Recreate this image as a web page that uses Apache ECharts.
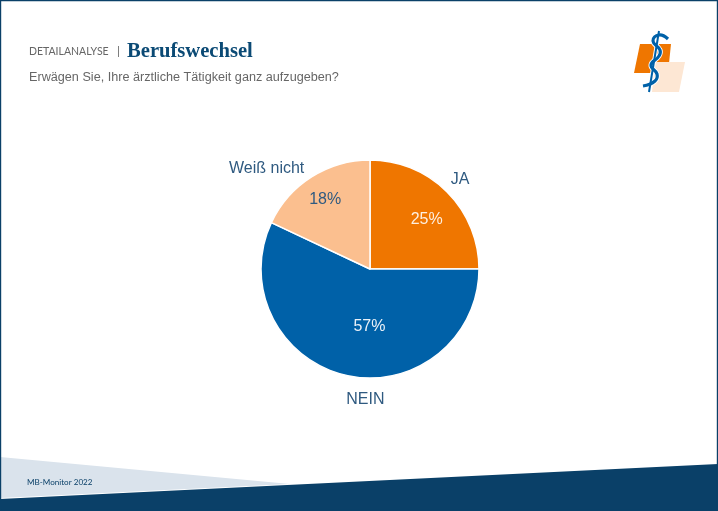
<!DOCTYPE html>
<html><head><meta charset="utf-8">
<style>html,body{margin:0;padding:0;background:#fff}#c{width:718px;height:511px}</style>
<script src="https://cdn.jsdelivr.net/npm/echarts@6/dist/echarts.min.js"></script></head>
<body><div id="c"></div>
<script>
const categories = ['JA', 'NEIN', 'Weiß nicht'];
const values = [25, 57, 18];
const sliceColors = ['#EF7600', '#0061A8', '#FBBF8F'];
const pctColors = ['#FDEFE0', '#EAF1F8', '#2F5A80'];
const nameOffsets = [[-7, -7], [45, 16], [2, -2]];
const pctOffsets = [[16, -9], [12, 1], [-14, -21]];

const chart = echarts.init(document.getElementById('c'), null, {renderer: 'canvas'});
const navy = '#0A4068';
const snake = [[668,39],[659,35],[653,41],[660,50],[659,56],[651,65],[657,74],[655,81],[643,86]];
chart.setOption({
  animation: false,
  backgroundColor: '#fff',
  graphic: [
    {type:'polygon', z:1, shape:{points:[[0,457],[290,484],[0,498]]}, style:{fill:'#DAE3EC'}},
    {type:'polygon', z:2, shape:{points:[[0,499],[718,464],[718,511],[0,511]]}, style:{fill:navy}},
    {type:'rect', z:3, shape:{x:0.5,y:0.5,width:717,height:510}, style:{fill:'none',stroke:navy,lineWidth:1.4}},
    {type:'text', z:5, x:29, y:46, style:{text:'DETAILANALYSE',font:'10.5px Lato',fill:'#666'}},
    {type:'text', z:5, x:117, y:45, style:{text:'|',font:'12px Lato',fill:'#666'}},
    {type:'text', z:5, x:127, y:41, style:{text:'Berufswechsel',font:'bold 20.6px "Liberation Serif"',fill:'#0B4A75'}},
    {type:'text', z:5, x:29, y:71, style:{text:'Erwägen Sie, Ihre ärztliche Tätigkeit ganz aufzugeben?',font:'12.65px "Liberation Sans"',fill:'#666'}},
    {type:'text', z:5, x:27, y:478, style:{text:'MB-Monitor 2022',font:'8.1px Lato',fill:navy}},
    {type:'polygon', z:5, shape:{points:[[640,44],[671,44],[668,73],[634,73]]}, style:{fill:'#EF7600'}},
    {type:'polygon', z:6, shape:{points:[[655,62],[685,62],[679,92],[652,92]]}, style:{fill:'#FDE7D4'}},
    {type:'polyline', z:7, shape:{smooth:0.5, points:snake}, style:{fill:'none',stroke:'#fff',lineWidth:5}},
    {type:'line', z:7, shape:{x1:659,y1:31,x2:649,y2:92}, style:{stroke:'#fff',lineWidth:4}},
    {type:'line', z:8, shape:{x1:659,y1:31,x2:649,y2:92}, style:{stroke:'#0061A8',lineWidth:2}},
    {type:'polyline', z:8, shape:{smooth:0.5, points:snake}, style:{fill:'none',stroke:'#0061A8',lineWidth:3.2}}
  ],
  series: [
    {
      type: 'pie', center: [370, 269], radius: [0, 109], startAngle: 90, clockwise: true, z: 4,
      data: categories.map((n, i) => ({name:n, value:values[i], itemStyle:{color:sliceColors[i]},
        label:{color:pctColors[i], offset:pctOffsets[i]}})),
      itemStyle: {borderColor:'#fff', borderWidth:1.5},
      label: {position:'inside', formatter:'{c}%', fontFamily:'Liberation Sans', fontSize:16},
      labelLine: {show:false}, silent:true
    },
    {
      type: 'pie', center: [370, 269], radius: [0, 109], startAngle: 90, clockwise: true, z: 4,
      data: categories.map((n, i) => ({name:n, value:values[i], label:{offset:nameOffsets[i]}})),
      itemStyle: {color:'transparent', borderWidth:0},
      label: {position:'outside', formatter:'{b}', fontFamily:'Liberation Sans', fontSize:16, color:'#2F5A80'},
      labelLine: {show:false, length:8, length2:0}, silent:true
    }
  ]
});
</script></body></html>
